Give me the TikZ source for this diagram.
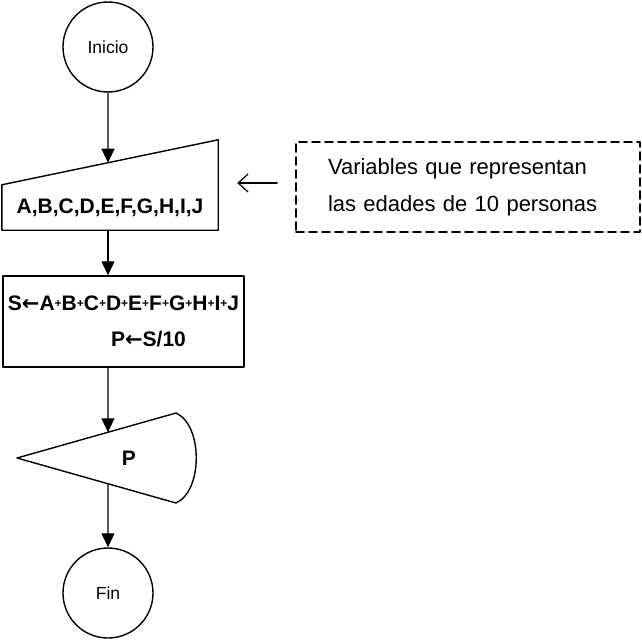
\documentclass[tikz,border=0pt]{standalone}
\usepackage{fontspec}
\setmainfont{Liberation Sans}
\newfontfamily\flechafont{DejaVu Sans}
\usetikzlibrary{arrows.meta,calc,positioning}
\newcommand{\mas}{\raisebox{3.4pt}{\fontsize{12}{12}\selectfont+}}
\newcommand{\asigna}{{\flechafont\bfseries ←}}

\begin{document}
\begin{tikzpicture}[x=1pt,y=-1pt,line cap=round,line join=round,
 forma/.style={line width=1.4pt},
 terminal/.style={circle,draw,line width=1.4pt,minimum size=90pt,
   inner sep=0pt,font=\fontsize{17.5}{19}\selectfont},
 caja/.style={rectangle,inner sep=0pt,align=center,
   font=\bfseries\fontsize{21}{36}\selectfont},
 flecha/.style={line width=1.2pt,-{Triangle[length=14pt,width=13pt]}},
 nota/.style={line width=1.2pt,-{Straight Barb[length=10pt,width=18pt]}}]
 \useasboundingbox (0,0) rectangle (642,642);
 % Inicio y entrada manual con el borde superior inclinado.
 \node[terminal] (inicio) at (108,47) {Inicio};
 \node[caja,minimum width=216pt,minimum height=45pt]
  (entrada) at (110,207.5) {A,B,C,D,E,F,G,H,I,J};
 \draw[forma] (entrada.south west) -- (entrada.north west)
  -- ([yshift=45pt]entrada.north east) -- (entrada.south east) -- cycle;
 \coordinate (entrada-sup)
  at ($(entrada.north west)!0.4907!([yshift=45pt]entrada.north east)$);
 \draw[flecha] (inicio.south) -- (entrada-sup);
 % Proceso: suma y promedio.
 \node[caja,draw,line width=1.4pt,minimum width=241pt,minimum height=91pt]
  (proceso) at (123.5,321.5)
  {S\asigna A\mas B\mas C\mas D\mas E\mas F\mas G\mas H\mas I\mas J\\
   \hspace*{50pt}P\asigna S/10};
 \draw[flecha] (inicio.south |- entrada.south)
  -- (inicio.south |- proceso.north);
 % Salida por pantalla.
 \node[caja] (salida) at (129,458) {P};
 \coordinate (sal-izq) at (17,458);
 \coordinate (sal-arr) at (176,413);
 \coordinate (sal-aba) at (176,503);
 \draw[forma] (sal-izq) -- (sal-arr)
  .. controls +(27,12) and +(27,-12) .. (sal-aba) -- cycle;
 \coordinate (sal-sup) at ($(sal-izq)!0.572!(sal-arr)$);
 \coordinate (sal-inf) at ($(sal-izq)!0.572!(sal-aba)$);
 \draw[flecha] (inicio.south |- proceso.south) -- (sal-sup);
 \node[terminal] (fin) at (108,593) {Fin};
 \draw[flecha] (sal-inf) -- (fin.north);
 % Comentario de las variables.
 \node[draw,line width=1.6pt,dash pattern=on 8pt off 5pt,
   minimum width=344pt,minimum height=90pt,inner xsep=32pt,
   text width=280pt,align=left,font=\fontsize{22}{37}\selectfont]
  (comentario) at (468,187)
  {Variables que representan\\las edades de 10 personas};
 \draw[nota] ([xshift=-18pt,yshift=4pt]comentario.west) -- ++(-40,0);
\end{tikzpicture}
\end{document}
